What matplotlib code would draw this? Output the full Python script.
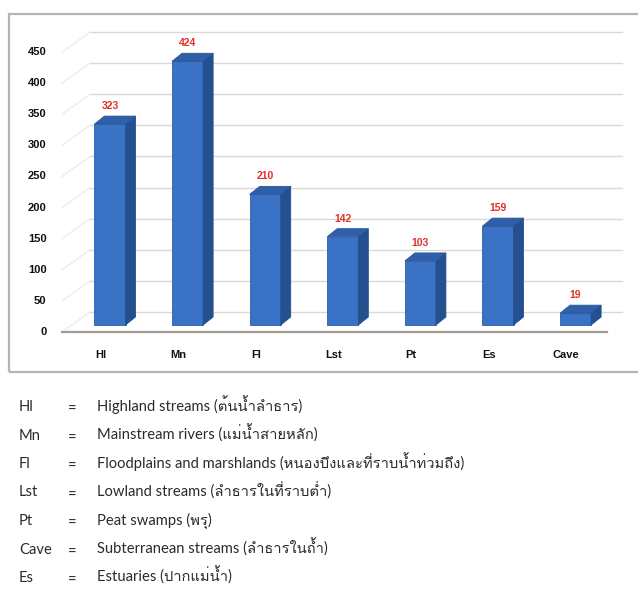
import matplotlib
matplotlib.use("Agg")
import matplotlib.pyplot as plt
from matplotlib import font_manager
from matplotlib.patches import Polygon, Rectangle
from fontTools.ttLib import TTFont

# Fish species counts per habitat type
codes = ["Hl", "Mn", "Fl", "Lst", "Pt", "Es", "Cave"]
tick_names = ["HI", "Mn", "FI", "Lst", "Pt", "Es", "Cave"]
counts = [323, 424, 210, 142, 103, 159, 19]
y_ticks = [0, 50, 100, 150, 200, 250, 300, 350, 400, 450]

# Legend rows (abbreviation, description)
legend_codes = ["Hl", "Mn", "Fl", "Lst", "Pt", "Cave", "Es"]
legend_text = [
    "Highland streams (ต้นน้ำลำธาร)",
    "Mainstream rivers (แม่น้ำสายหลัก)",
    "Floodplains and marshlands (หนองบึงและที่ราบน้ำท่วมถึง)",
    "Lowland streams (ลำธารในที่ราบต่ำ)",
    "Peat swamps (พรุ)",
    "Subterranean streams (ลำธารในถ้ำ)",
    "Estuaries (ปากแม่น้ำ)",
]


def thai_family():
    # first installed family that actually covers the Thai block
    for f in font_manager.fontManager.ttflist:
        try:
            cmap = TTFont(f.fname, fontNumber=0, lazy=True).getBestCmap()
        except Exception:
            continue
        if cmap and 0x0E01 in cmap and 0x0E33 in cmap:
            return f.name
    return None


thai = thai_family()
legend_family = ["Lato"] + ([thai] if thai else []) + ["DejaVu Sans"]

W, H = 638, 591
fig = plt.figure(figsize=(W / 100, H / 100), dpi=100)
ax = fig.add_axes([0, 0, 1, 1])

# data units: one category per 77.6 px, 0.622 px per species
px_x, px_y = 77.6, 0.622
x0, y0 = 110, 325
ax.set_xlim(-x0 / px_x, (W - x0) / px_x)
ax.set_ylim(-(H - y0) / px_y, y0 / px_y)
ax.axis("off")

half = 0.2             # half width of a bar front
dx = 10 / px_x         # bar depth, sideways
dy = 8 / px_y          # bar depth, upwards
floor_front = -7 / px_y
floor_back = 13 / px_y
wall_dx = 28 / px_x
left_x = -48 / px_x

# chart frame
ax.add_patch(Rectangle((-101 / px_x, -47 / px_y), 700 / px_x, 358 / px_y,
                       fill=False, ec="#b5b5b5", lw=1.6, zorder=0))

# back wall gridlines and the slanted lines joining them to the ticks
for v in y_ticks:
    ax.plot([left_x + wall_dx, 6.6], [v + floor_back, v + floor_back],
            color="#d9d9d9", lw=1.0, zorder=1)
    ax.plot([left_x, left_x + wall_dx], [v + floor_front, v + floor_back],
            color="#ececec", lw=1.0, zorder=1)
    ax.text(left_x - 0.2, v + floor_front, str(v), ha="right", va="center",
            fontsize=8, fontweight="bold", family="Liberation Sans", color="#111111")

# floor front edge
ax.plot([left_x, 6.4], [floor_front, floor_front], color="#a09a90", lw=1.6, zorder=2)

for i, v in enumerate(counts):
    l, r = i - half, i + half
    front = Polygon([(l, 0), (r, 0), (r, v), (l, v)], closed=True,
                    fc="#3a72c6", ec="#2d5ea8", lw=0.6, zorder=3)
    side = Polygon([(r, 0), (r + dx, dy), (r + dx, v + dy), (r, v)], closed=True,
                   fc="#25508f", ec="#25508f", lw=0.6, zorder=3)
    top = Polygon([(l, v), (r, v), (r + dx, v + dy), (l + dx, v + dy)], closed=True,
                  fc="#2f5fa8", ec="#2a5698", lw=0.6, zorder=3)
    for p in (front, side, top):
        ax.add_patch(p)
    ax.text(i, v + dy + 5 / px_y, str(v), ha="center", va="bottom",
            fontsize=7.5, fontweight="bold", color="#e03028", family="Liberation Sans")
    ax.text(i - 0.12, -30 / px_y, tick_names[i], ha="center", va="center",
            fontsize=8, fontweight="bold", family="Liberation Sans", color="#111111")

# abbreviation key below the chart
for k, (c, t) in enumerate(zip(legend_codes, legend_text)):
    y = 1 - (411 + 28.5 * k) / H
    kw = dict(va="baseline", fontsize=10.6, family=legend_family, color="#2a2a2a")
    fig.text(19 / W, y, c, ha="left", **kw)
    fig.text(72 / W, y - 3 / H, "=", ha="center", **kw)
    fig.text(97 / W, y, t, ha="left", **kw)

fig.savefig("out.png", dpi=100)
